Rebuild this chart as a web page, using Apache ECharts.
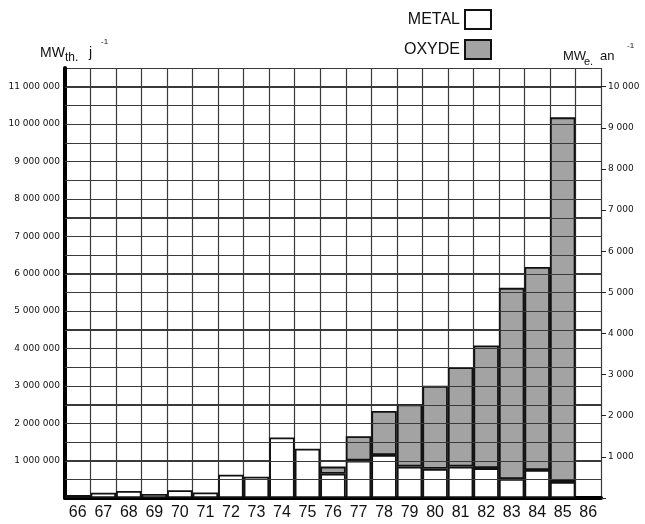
<!DOCTYPE html>
<html>
<head>
<meta charset="utf-8">
<script src="https://cdn.jsdelivr.net/npm/echarts@6/dist/echarts.min.js"></script>
<style>
html,body{margin:0;padding:0;background:#fff;}
#chart{width:645px;height:524px;}
</style>
</head>
<body>
<div id="chart"></div>
<script>
// Years (19xx)
const years = ['66','67','68','69','70','71','72','73','74','75','76','77','78','79','80','81','82','83','84','85','86'];
// MWth per day, metal fuel (bottom, white)
const metal = [80000,140000,190000,110000,210000,150000,620000,570000,1620000,1320000,650000,1000000,1150000,840000,780000,840000,800000,510000,750000,430000,null];
// MWth per day, oxide fuel (stacked on top, grey)
const oxyde = [null,null,null,null,null,null,null,null,null,null,190000,650000,1180000,1660000,2220000,2660000,3280000,5110000,5430000,9750000,null];
// axis extents
const leftMax = 11500000;
const leftStep = 500000;
const rightMax = 10000 * 11.5 / 11;

const fmt = v => String(Math.round(v)).replace(/\B(?=(\d{3})+(?!\d))/g, ' ');

// horizontal grid levels (re-drawn over the bars, as in the original print)
const gridLevels = [];
for (let v = leftStep; v < leftMax; v += leftStep) gridLevels.push(v);

const GRID = {left:65, right:44, top:68, bottom:26};
const chart = echarts.init(document.getElementById('chart'), null, {renderer:'canvas'});
const gridColor = '#3a3a3a';
const txt = {fontFamily:'Liberation Sans', fill:'#111'};

const titles = [
  {type:'text', left:40, top:46, style:Object.assign({text:'MW', fontSize:14}, txt)},
  {type:'text', left:65, top:52, style:Object.assign({text:'th.', fontSize:12}, txt)},
  {type:'text', left:89, top:46, style:Object.assign({text:'j', fontSize:14}, txt)},
  {type:'text', left:101, top:38, style:Object.assign({text:'-1', fontSize:8}, txt)},
  {type:'text', left:563, top:50, style:Object.assign({text:'MW', fontSize:13}, txt)},
  {type:'text', left:584, top:56, style:Object.assign({text:'e.', fontSize:11}, txt)},
  {type:'text', left:600, top:50, style:Object.assign({text:'an', fontSize:13}, txt)},
  {type:'text', left:627, top:42, style:Object.assign({text:'-1', fontSize:8}, txt)}
];

chart.setOption({
  backgroundColor:'#fff',
  animation:false,
  legend:{
    data:['METAL','OXYDE'],
    orient:'vertical', align:'right', right:148, top:4,
    itemWidth:26, itemHeight:19, itemGap:9, icon:'rect',
    textStyle:{fontSize:16, fontFamily:'Liberation Sans', color:'#111'}
  },
  grid:Object.assign({containLabel:false}, GRID),
  xAxis:{
    type:'category', data:years, boundaryGap:true,
    axisLine:{show:true, lineStyle:{color:'#000', width:4}},
    axisTick:{show:false},
    axisLabel:{interval:0, margin:7, fontSize:16, fontFamily:'Liberation Sans', color:'#111'},
    splitLine:{show:true, interval:0, lineStyle:{color:gridColor, width:1.2}}
  },
  yAxis:[{
    type:'value', min:0, max:leftMax, interval:leftStep, position:'left',
    axisLine:{show:true, lineStyle:{color:'#000', width:4}},
    axisTick:{show:false},
    axisLabel:{margin:5, fontSize:9, fontFamily:'DejaVu Sans', color:'#111',
      formatter:v => (v > 0 && v % 1000000 === 0) ? fmt(v) : ''},
    splitLine:{show:true, lineStyle:{color:gridColor, width:1.2}}
  },{
    type:'value', min:0, max:rightMax, interval:1000, position:'right',
    axisLine:{show:false},
    axisTick:{show:true, length:5, lineStyle:{color:'#222', width:1}},
    axisLabel:{margin:7, fontSize:9, fontFamily:'DejaVu Sans', color:'#111', showMaxLabel:false,
      formatter:v => (v > 0 && v <= 10000) ? fmt(v) : ''},
    splitLine:{show:false}
  }],
  series:[{
    name:'METAL', type:'bar', stack:'fuel', barCategoryGap:'0%', data:metal,
    itemStyle:{color:'#fff', borderColor:'#111', borderWidth:1.8}
  },{
    name:'OXYDE', type:'bar', stack:'fuel', barCategoryGap:'0%', data:oxyde,
    itemStyle:{color:'#a3a3a3', borderColor:'#111', borderWidth:1.8}
  }],
  graphic:titles
});

// overlay the horizontal rules on top of the bars, positioned through the y scale
const x1 = GRID.left;
const x2 = 645 - GRID.right;
const rules = gridLevels.map(v => {
  const y = Math.round(chart.convertToPixel({yAxisIndex:0}, v)) + 0.5;
  return {type:'line', silent:true, z:100, zlevel:0,
    shape:{x1:x1, y1:y, x2:x2, y2:y},
    style:{stroke:gridColor, lineWidth:1.2}};
});
chart.setOption({graphic:titles.concat(rules)});
</script>
</body>
</html>
